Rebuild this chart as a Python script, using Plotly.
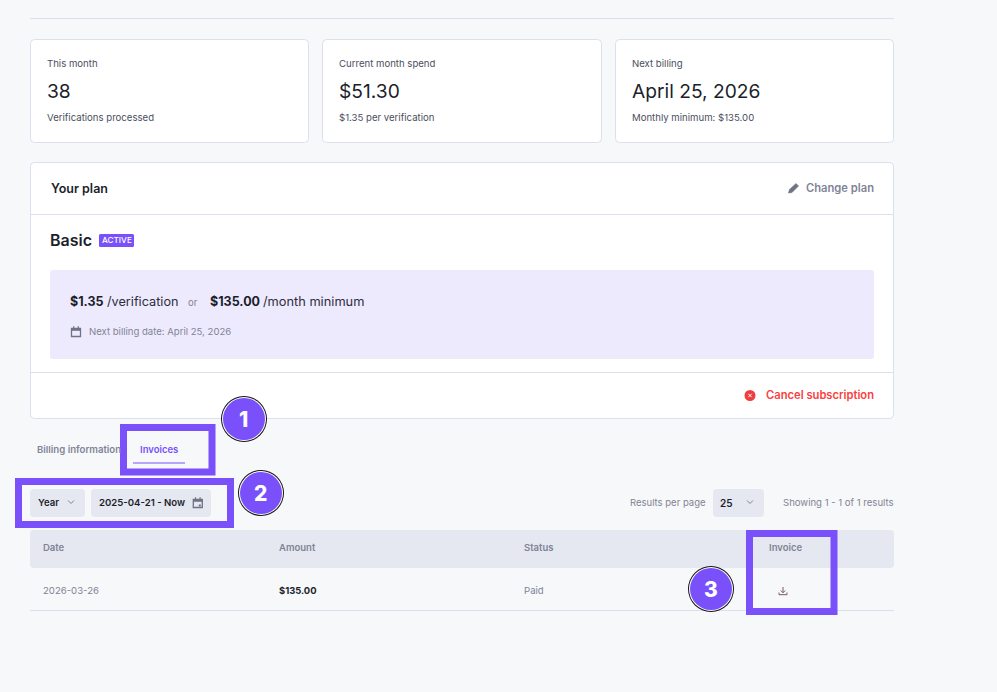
import plotly.graph_objects as go

# page texts / values
card_titles = ["This month", "Current month spend", "Next billing"]
card_values = ["38", "$51.30", "April 25, 2026"]
card_notes = ["Verifications processed", "$1.35 per verification", "Monthly minimum: $135.00"]
plan_name = "Basic"
plan_status = "ACTIVE"
unit_price = ["$1.35", "/verification"]
min_price = ["$135.00", "/month minimum"]
next_date = "Next billing date: April 25, 2026"
tab_names = ["Billing information", "Invoices"]
filter_names = ["Year", "2025-04-21 - Now"]
page_size = "25"
table_cols = ["Date", "Amount", "Status", "Invoice"]
table_row = ["2026-03-26", "$135.00", "Paid"]
badge_nums = ["1", "2", "3"]

BG = "#f7f8fa"
BORDER = "#dbe0ec"
DARK = "#1c1f2b"
MID = "#4a4e60"
GREY = "#7f8496"
PURPLE = "#7950fa"
CHIP = "#e5e8f0"
RED = "#f94040"

shapes = []
notes = []


def rrect(x0, y0, x1, y1, r=4, fill="white", line=None, lw=1):
    path = (f"M{x0+r},{y0} L{x1-r},{y0} Q{x1},{y0} {x1},{y0+r} L{x1},{y1-r} Q{x1},{y1} {x1-r},{y1} "
            f"L{x0+r},{y1} Q{x0},{y1} {x0},{y1-r} L{x0},{y0+r} Q{x0},{y0} {x0+r},{y0} Z")
    shapes.append(dict(type="path", path=path, fillcolor=fill,
                       line=dict(color=line if line else "rgba(0,0,0,0)", width=lw if line else 0)))


def hline(x0, x1, y, color=BORDER, lw=1):
    shapes.append(dict(type="line", x0=x0, x1=x1, y0=y, y1=y, line=dict(color=color, width=lw)))


def icon(path, color, lw=1.2, fill="rgba(0,0,0,0)"):
    shapes.append(dict(type="path", path=path, fillcolor=fill, line=dict(color=color, width=lw)))


def circle(cx, cy, r, fill, line=None, lw=1):
    shapes.append(dict(type="circle", x0=cx-r, x1=cx+r, y0=cy-r, y1=cy+r, fillcolor=fill,
                       line=dict(color=line if line else "rgba(0,0,0,0)", width=lw if line else 0)))


def text(x, y, s, size=10.5, color=DARK, weight=400, anchor="left", family="Inter"):
    notes.append(dict(x=x, y=y, text=s, showarrow=False, xanchor=anchor, yanchor="middle", align=anchor,
                      borderpad=0, borderwidth=0,
                      font=dict(family=family, size=size, color=color, weight=weight)))


def chevron(cx, cy, color=GREY):
    icon(f"M{cx-3},{cy-1.5} L{cx},{cy+1.5} L{cx+3},{cy-1.5}", color, 1)


def calendar(x0, y0, x1, y1, color=GREY, dot=False):
    icon(f"M{x0},{y0+1.5} L{x1},{y0+1.5} L{x1},{y1} L{x0},{y1} Z", color, 1.3)
    shapes.append(dict(type="rect", x0=x0, x1=x1, y0=y0+1, y1=y0+3.8, fillcolor=color, line=dict(width=0)))
    icon(f"M{x0+2.2},{y0-0.8} L{x0+2.2},{y0+1.5} M{x1-2.2},{y0-0.8} L{x1-2.2},{y0+1.5}", color, 1.2)
    if dot:
        shapes.append(dict(type="rect", x0=x1-3.5, x1=x1-1.5, y0=y1-3, y1=y1-1, fillcolor=color, line=dict(width=0)))


# top rule
hline(30, 894, 18.5)

# stat cards
card_x = [(30.5, 308.5), (322.5, 601.5), (615.5, 893.5)]
for (x0, x1), t, v, n in zip(card_x, card_titles, card_values, card_notes):
    rrect(x0, 39.5, x1, 142.5, 4, "white", BORDER)
    text(x0+16.5, 63.5, t, 9.6, MID)
    text(x0+16.5, 91, v, 19.2, DARK)
    text(x0+16.5, 117.5, n, 9.6, MID)

# plan card
rrect(30.5, 162.5, 893.5, 418.5, 4, "white", BORDER)
hline(31, 893, 214.5)
hline(31, 893, 372.5)
text(50.5, 188, "Your plan", 12.5, DARK, 600)
icon("M788.5,193 L789.5,189.5 L796,183.5 L798.5,186 L792,192.5 Z", "#6f7385", 0.6, "#6f7385")
text(806, 188, "Change plan", 11.2, GREY, 600)
text(50, 240, plan_name, 16, DARK, 600)
rrect(99, 234, 134, 247, 1.5, PURPLE)
text(116.5, 240, plan_status, 8.2, "white", 500, "center")

rrect(50, 270, 874, 359, 3, "#eeeafe")
text(70, 301.5, unit_price[0], 12.5, DARK, 700)
text(107, 301.5, unit_price[1], 12.7, "#2b2e3d")
text(188, 302.5, "or", 9.5, GREY)
text(210, 301.5, min_price[0], 12.5, DARK, 700)
text(263, 301.5, min_price[1], 12.8, "#2b2e3d")
calendar(71.5, 327, 80.5, 336.5, "#6f7385")
text(88.5, 331.5, next_date, 9.55, GREY)

circle(750, 395.5, 5.5, "#f03e3e")
icon("M748.3,393.8 L751.7,397.2 M751.7,393.8 L748.3,397.2", "white", 1)
text(766, 395, "Cancel subscription", 11.2, RED, 600)

# tabs
text(37, 449.5, tab_names[0], 9.6, GREY, 600)
text(139.5, 449.5, tab_names[1], 9.5, PURPLE, 600)
hline(133, 185, 463, PURPLE, 1)

# filters
rrect(30, 489, 85, 517, 4, CHIP)
text(38, 502.5, filter_names[0], 9.6, DARK, 600)
chevron(71, 502)
rrect(91, 489, 211, 517, 4, CHIP)
text(99, 502.5, filter_names[1], 9.6, DARK, 600)
calendar(193.3, 498, 202.3, 507.5, "#6f7385", dot=True)

text(630, 502.5, "Results per page", 9.5, GREY)
rrect(713, 489, 764, 517, 4, CHIP)
text(720, 502.5, page_size, 10, DARK, 600)
chevron(750, 502)
text(783, 502.5, "Showing 1 - 1 of 1 results", 9.55, GREY)

# invoice table
rrect(30, 530, 894, 568, 4, CHIP)
col_x = [43, 279, 524, 769]
for x, c in zip(col_x, table_cols):
    text(x, 547.5, c, 9.5, GREY, 600)
text(col_x[0], 590.5, table_row[0], 9.6, GREY)
text(col_x[1], 590.5, table_row[1], 9.4, DARK, 700)
text(col_x[2], 590.5, table_row[2], 9.6, GREY)
icon("M783,587 L783,592.5 M780.8,590.5 L783,592.8 L785.2,590.5 M779,592.5 L779,594.7 L787,594.7 L787,592.5",
     "#7a5a66", 1)
hline(30, 894, 610.5)

# highlight boxes
boxes = [(123.5, 427.5, 212, 472), (18.5, 481.5, 230.5, 524.5), (749.5, 533.5, 834, 611.5)]
for x0, y0, x1, y1 in boxes:
    shapes.append(dict(type="rect", x0=x0, x1=x1, y0=y0, y1=y1, fillcolor="rgba(0,0,0,0)",
                       line=dict(color=PURPLE, width=7)))

# numbered badges
badge_xy = [(244, 419), (261, 493), (711, 589)]
for (cx, cy), n in zip(badge_xy, badge_nums):
    circle(cx, cy, 23, "#111111")
    circle(cx, cy, 22, "white")
    circle(cx, cy, 21, PURPLE)
    text(cx-0.5, cy+0.5, n, 21, "white", 800, "center")

fig = go.Figure()
fig.update_layout(
    width=997, height=692,
    margin=dict(l=0, r=0, t=0, b=0),
    paper_bgcolor=BG, plot_bgcolor=BG,
    xaxis=dict(range=[0, 997], visible=False, fixedrange=True),
    yaxis=dict(range=[692, 0], visible=False, fixedrange=True),
    shapes=shapes, annotations=notes, showlegend=False,
)
fig.write_html("out.html", config={"displayModeBar": False},
               post_script="document.body.style.margin='0';")
